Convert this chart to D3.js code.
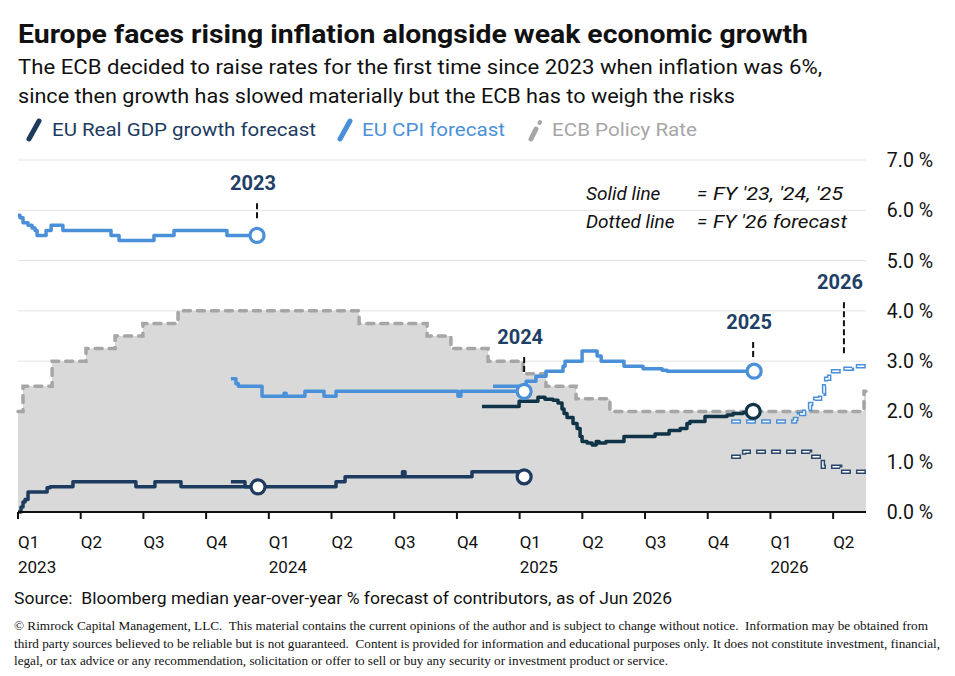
<!DOCTYPE html>
<html><head><meta charset="utf-8">
<script src="https://cdn.jsdelivr.net/npm/d3@7"></script>
<style>
html,body{margin:0;padding:0;background:#fff;}
svg{display:block;}
text{white-space:pre;}
</style></head>
<body>
<svg id="chart" width="955" height="676"></svg>
<script>
// ---------- DATA (time as decimal year) ----------
const quarterTicks = [2023,2023.25,2023.5,2023.75,2024,2024.25,2024.5,2024.75,2025,2025.25,2025.5,2025.75,2026,2026.25];
const quarterLabels = ["Q1","Q2","Q3","Q4","Q1","Q2","Q3","Q4","Q1","Q2","Q3","Q4","Q1","Q2"];
const yearLabels = ["2023","","","","2024","","","","2025","","","","2026",""];
const yTicks = [0,1,2,3,4,5,6,7];

const ecbDates = [2023.000,2023.020,2023.136,2023.271,2023.387,2023.498,2023.638,2024.360,2024.631,2024.726,2024.874,2025.014,2025.105,2025.225,2025.360,2026.373,2026.381];
const ecbRate  = [2.0,2.5,3.0,3.25,3.5,3.75,4.0,3.75,3.5,3.25,3.0,2.75,2.5,2.25,2.0,2.4,2.4];

const cpi2023Dates = [2023.000,2023.008,2023.020,2023.040,2023.056,2023.068,2023.076,2023.112,2023.132,2023.179,2023.371,2023.403,2023.542,2023.622,2023.833,2023.953];
const cpi2023 =      [5.9,5.85,5.75,5.7,5.65,5.6,5.5,5.6,5.7,5.6,5.5,5.4,5.5,5.6,5.5,5.5];

const gdp2023Dates = [2023.000,2023.012,2023.020,2023.028,2023.040,2023.116,2023.128,2023.219,2023.470,2023.546,2023.650,2023.957];
const gdp2023 =      [0.0,0.1,0.2,0.25,0.4,0.48,0.5,0.6,0.5,0.6,0.5,0.5];

const cpi2024Dates = [2023.849,2023.869,2023.879,2023.973,2024.061,2024.069,2024.144,2024.220,2024.268,2024.754,2024.766,2025.018];
const cpi2024 =      [2.65,2.55,2.5,2.3,2.36,2.3,2.4,2.3,2.4,2.3,2.4,2.4];

const gdp2024Dates = [2023.849,2023.905,2024.268,2024.304,2024.533,2024.543,2024.810,2024.998,2025.018];
const gdp2024 =      [0.6,0.5,0.6,0.7,0.8,0.7,0.8,0.7,0.7];

const cpi2025Dates = [2024.894,2025.026,2025.065,2025.105,2025.173,2025.181,2025.249,2025.309,2025.325,2025.416,2025.492,2025.568,2025.588,2025.935];
const cpi2025 =      [2.5,2.6,2.7,2.8,2.9,3.0,3.2,3.1,3.0,2.9,2.85,2.82,2.8,2.8];

const gdp2025Dates = [2024.850,2024.998,2025.073,2025.101,2025.133,2025.153,2025.169,2025.177,2025.189,2025.213,2025.229,2025.241,2025.249,2025.269,2025.289,2025.305,2025.317,2025.344,2025.416,2025.540,2025.596,2025.640,2025.667,2025.679,2025.739,2025.827,2025.851,2025.891,2025.919,2025.931];
const gdp2025 =      [2.1,2.2,2.28,2.24,2.22,2.17,2.05,1.96,1.88,1.76,1.66,1.5,1.4,1.37,1.33,1.4,1.37,1.4,1.5,1.55,1.62,1.66,1.76,1.8,1.9,1.93,1.96,1.98,2.0,2.0];

const cpi2026Dates = [2025.843,2026.098,2026.114,2026.134,2026.158,2026.178,2026.198,2026.214,2026.222,2026.234,2026.285,2026.325,2026.381];
const cpi2026 =      [1.8,1.85,1.95,2.05,2.15,2.25,2.35,2.5,2.65,2.8,2.85,2.9,2.9];

const gdp2026Dates = [2025.843,2025.895,2026.158,2026.209,2026.278,2026.381];
const gdp2026 =      [1.1,1.2,1.1,0.9,0.8,0.8];

const annoLabels = ["2023","2024","2025","2026"];
const annoDates  = [2023.953,2025.018,2025.931,2026.293];
const annoTop    = [6.14,3.08,3.38,4.17];
const annoBottom = [5.84,2.76,3.08,3.12];

// ---------- SETUP ----------
const C_GDP = "#1c3b5f", C_GDP25 = "#0f3447", C_CPI = "#4a90d9", C_ECB = "#a6a6a6", C_FILL = "#d9d9d9";
const FONT = "Roboto, 'Liberation Sans', sans-serif";
const svg = d3.select("#chart");
const x = d3.scaleLinear().domain([2023, 2026.381]).range([18, 866]);
const y = d3.scaleLinear().domain([0, 7]).range([512, 160]);
const zip = (a,b) => a.map((d,i)=>[d,b[i]]);

// Title etc
svg.append("text").attr("x",18).attr("y",43).attr("font-family",FONT).attr("font-weight",700)
  .attr("font-size",26).attr("fill","#111").attr("textLength",790).attr("lengthAdjust","spacingAndGlyphs")
  .text("Europe faces rising inflation alongside weak economic growth");
svg.append("text").attr("x",18).attr("y",74).attr("font-family",FONT).attr("font-size",20).attr("fill","#111")
  .attr("textLength",804).attr("lengthAdjust","spacingAndGlyphs")
  .text("The ECB decided to raise rates for the first time since 2023 when inflation was 6%,");
svg.append("text").attr("x",18).attr("y",103).attr("font-family",FONT).attr("font-size",20).attr("fill","#111")
  .attr("textLength",717).attr("lengthAdjust","spacingAndGlyphs")
  .text("since then growth has slowed materially but the ECB has to weigh the risks");

// Legend
const leg = svg.append("g");
leg.append("line").attr("x1",29).attr("y1",139).attr("x2",39).attr("y2",121).attr("stroke",C_GDP).attr("stroke-width",5).attr("stroke-linecap","round");
leg.append("text").attr("x",52).attr("y",136).attr("font-family",FONT).attr("font-size",19).attr("fill",C_GDP)
  .attr("textLength",264).attr("lengthAdjust","spacingAndGlyphs").text("EU Real GDP growth forecast");
leg.append("line").attr("x1",340).attr("y1",139).attr("x2",350).attr("y2",121).attr("stroke",C_CPI).attr("stroke-width",5).attr("stroke-linecap","round");
leg.append("text").attr("x",362).attr("y",136).attr("font-family",FONT).attr("font-size",19).attr("fill",C_CPI)
  .attr("textLength",143).attr("lengthAdjust","spacingAndGlyphs").text("EU CPI forecast");
leg.append("line").attr("x1",531).attr("y1",139).attr("x2",536).attr("y2",129).attr("stroke",C_ECB).attr("stroke-width",5).attr("stroke-linecap","round");
leg.append("line").attr("x1",539.5).attr("y1",123).attr("x2",540).attr("y2",122).attr("stroke",C_ECB).attr("stroke-width",4).attr("stroke-linecap","round");
leg.append("text").attr("x",552).attr("y",136).attr("font-family",FONT).attr("font-size",19).attr("fill",C_ECB)
  .attr("textLength",145).attr("lengthAdjust","spacingAndGlyphs").text("ECB Policy Rate");

// Gridlines
svg.append("g").selectAll("line").data(yTicks.filter(d=>d>0)).join("line")
  .attr("x1",x(2023)).attr("x2",x(2026.381)).attr("y1",d=>y(d)).attr("y2",d=>y(d))
  .attr("stroke","#e4e4e4").attr("stroke-width",1);

// Y labels
svg.append("g").selectAll("text").data(yTicks).join("text")
  .attr("x",933).attr("y",d=>y(d)).attr("dy","0.36em").attr("text-anchor","end")
  .attr("font-family",FONT).attr("font-size",19.5).attr("fill","#111")
  .text(d=>d3.format(".1f")(d)+" %");

// ECB area + line
const ecb = zip(ecbDates, ecbRate);
svg.append("path").datum(ecb)
  .attr("d", d3.area().curve(d3.curveStepAfter).x(d=>x(d[0])).y0(y(0)).y1(d=>y(d[1])))
  .attr("fill",C_FILL);
const stepLine = d3.line().curve(d3.curveStepAfter).x(d=>x(d[0])).y(d=>y(d[1]));
svg.append("path").datum(ecb).attr("d",stepLine).attr("fill","none")
  .attr("stroke",C_ECB).attr("stroke-width",3.5).attr("stroke-dasharray","7 7").attr("stroke-linecap","round");

// Forecast lines
function solid(dates, vals, color){
  svg.append("path").datum(zip(dates,vals)).attr("d",stepLine).attr("fill","none")
    .attr("stroke",color).attr("stroke-width",3.5).attr("stroke-linejoin","round");
}
function dashed(dates, vals, color){
  const data = zip(dates,vals);
  svg.append("path").datum(data).attr("d",stepLine).attr("fill","none")
    .attr("stroke",color).attr("stroke-width",4.5).attr("stroke-dasharray","10 5");
  svg.append("path").datum(data).attr("d",stepLine).attr("fill","none")
    .attr("stroke","#ffffff").attr("stroke-width",1.5).attr("stroke-dasharray","7 8").attr("stroke-dashoffset",-1.5);
}
solid(gdp2023Dates, gdp2023, C_GDP);
solid(cpi2023Dates, cpi2023, C_CPI);
solid(gdp2024Dates, gdp2024, C_GDP);
solid(cpi2024Dates, cpi2024, C_CPI);
solid(cpi2025Dates, cpi2025, C_CPI);
solid(gdp2025Dates, gdp2025, C_GDP25);
dashed(cpi2026Dates, cpi2026, C_CPI);
dashed(gdp2026Dates, gdp2026, "#28466b");

// End circles
const ends = [
  [cpi2023Dates, cpi2023, C_CPI],[gdp2023Dates, gdp2023, C_GDP],
  [cpi2024Dates, cpi2024, C_CPI],[gdp2024Dates, gdp2024, C_GDP],
  [cpi2025Dates, cpi2025, C_CPI],[gdp2025Dates, gdp2025, C_GDP25]
];
svg.append("g").selectAll("circle").data(ends).join("circle")
  .attr("cx",d=>x(d[0][d[0].length-1])).attr("cy",d=>y(d[1][d[1].length-1]))
  .attr("r",7).attr("fill","#fff").attr("stroke",d=>d[2]).attr("stroke-width",3.2);

// Annotations
const anno = svg.append("g");
annoLabels.forEach((lab,i)=>{
  anno.append("line").attr("x1",x(annoDates[i])).attr("x2",x(annoDates[i]))
    .attr("y1",y(annoTop[i])).attr("y2",y(annoBottom[i]))
    .attr("stroke","#111").attr("stroke-width",2).attr("stroke-dasharray","6 3");
  anno.append("text").attr("x",x(annoDates[i])-4).attr("y",y(annoTop[i])-13)
    .attr("text-anchor","middle").attr("font-family",FONT).attr("font-weight",700)
    .attr("font-size",20).attr("fill","#1f3f66").text(lab);
});

// Solid/dotted note
const note = svg.append("g").attr("font-family",FONT).attr("font-style","italic").attr("font-size",19).attr("fill","#111");
note.append("text").attr("x",586).attr("y",200).text("Solid line");
note.append("text").attr("x",697).attr("y",200).text("=");
note.append("text").attr("x",713).attr("y",200).attr("textLength",130).attr("lengthAdjust","spacingAndGlyphs").text("FY '23, '24, '25");
note.append("text").attr("x",586).attr("y",228).text("Dotted line");
note.append("text").attr("x",697).attr("y",228).text("=");
note.append("text").attr("x",713).attr("y",228).attr("textLength",134).attr("lengthAdjust","spacingAndGlyphs").text("FY '26 forecast");

// X axis
const ax = svg.append("g");
ax.append("line").attr("x1",x(2023)).attr("x2",x(2026.381)).attr("y1",y(0)).attr("y2",y(0))
  .attr("stroke","#111").attr("stroke-width",2);
ax.selectAll("line.tk").data(quarterTicks).join("line").attr("class","tk")
  .attr("x1",d=>x(d)).attr("x2",d=>x(d)).attr("y1",y(0)).attr("y2",y(0)+7)
  .attr("stroke","#111").attr("stroke-width",2);
ax.selectAll("text.q").data(quarterTicks).join("text").attr("class","q")
  .attr("x",d=>x(d)).attr("y",548).attr("font-family",FONT).attr("font-size",17).attr("fill","#111")
  .text((d,i)=>quarterLabels[i]);
ax.selectAll("text.yr").data(quarterTicks).join("text").attr("class","yr")
  .attr("x",d=>x(d)).attr("y",573).attr("font-family",FONT).attr("font-size",17).attr("fill","#111")
  .text((d,i)=>yearLabels[i]);

// Source + disclaimer
svg.append("text").attr("x",14).attr("y",604).attr("font-family",FONT).attr("font-size",16.5).attr("fill","#111")
  .attr("textLength",658).attr("lengthAdjust","spacingAndGlyphs")
  .text("Source:  Bloomberg median year-over-year % forecast of contributors, as of Jun 2026");
const SERIF = "'Liberation Serif','Times New Roman',serif";
const disc = [
  ["© Rimrock Capital Management, LLC.  This material contains the current opinions of the author and is subject to change without notice.  Information may be obtained from", 630, 914],
  ["third party sources believed to be reliable but is not guaranteed.  Content is provided for information and educational purposes only. It does not constitute investment, financial,", 648, 926],
  ["legal, or tax advice or any recommendation, solicitation or offer to sell or buy any security or investment product or service.", 665, 654]
];
disc.forEach(d=>{
  svg.append("text").attr("x",14).attr("y",d[1]).attr("font-family",SERIF).attr("font-size",12.5).attr("fill","#111")
    .attr("textLength",d[2]).attr("lengthAdjust","spacingAndGlyphs").text(d[0]);
});
</script>
</body></html>
